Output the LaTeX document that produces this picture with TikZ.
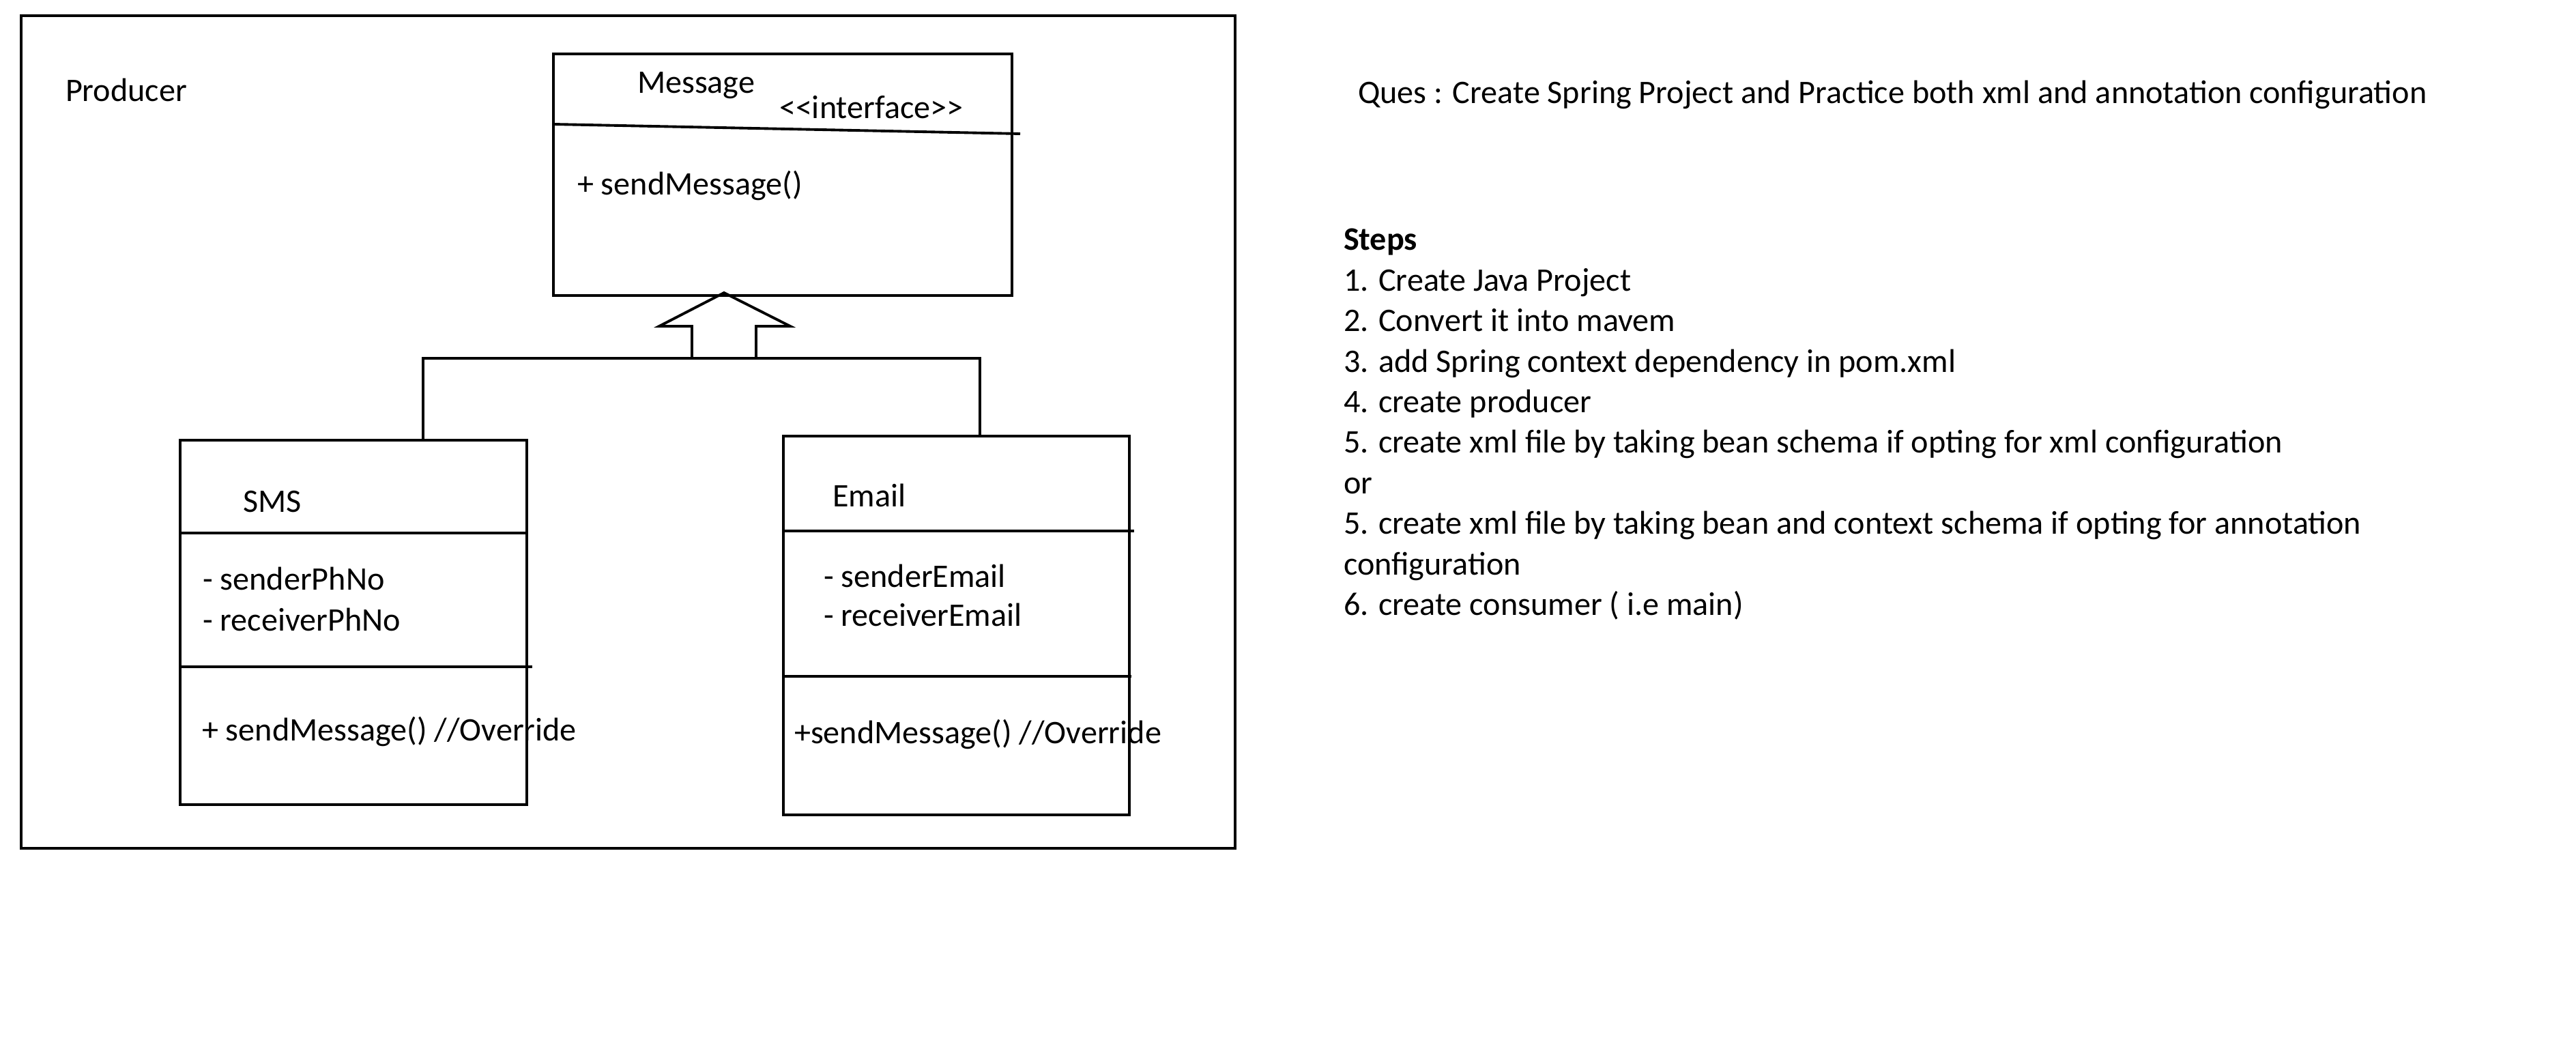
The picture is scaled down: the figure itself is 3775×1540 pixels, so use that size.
\documentclass[tikz,border=0pt]{standalone}
\usepackage{fontspec}
\setmainfont{Carlito}
\usetikzlibrary{positioning}

\begin{document}
\begin{tikzpicture}[x=0.01cm,y=-0.01cm,line width=1.1pt,
    font=\fontsize{13.7}{16.9}\selectfont,
    lbl/.style={anchor=base west,inner sep=0pt,outer sep=0pt},
    classbox/.style={draw,rectangle,anchor=north west,inner sep=0pt,outer sep=0pt}]
  \useasboundingbox (0,0) rectangle (3775,1540);
  % producer frame
  \draw[line width=1.4pt] (31,23) rectangle (1810,1243);
  \node[lbl] (producer) at (96,149) {Producer};
  % interface Message
  \node[classbox,minimum width=6.72cm,minimum height=3.54cm] (message) at (811,79) {};
  \draw (message.north west |- 0,182) -- (1495,196);
  \node[lbl] (msgname) at (934,137) {Message};
  \node[lbl] (msgstereo) at (1142,174) {<\kern0pt<interface>\kern0pt>};
  \node[lbl] (msgop) at (846,286) {+ sendMessage()};
  % class SMS
  \node[classbox,minimum width=5.08cm,minimum height=5.34cm] (sms) at (264,645) {};
  \draw (264,781) -- (772,781);
  \draw (262,977) -- (780,977);
  \node[lbl] (smsname) at (356,751) {SMS};
  \node[lbl] (smsattr1) at (297,865) {- senderPhNo};
  \node[lbl] (smsattr2) at (297,925) {- receiverPhNo};
  \node[lbl] (smsop) at (296,1085) {+ sendMessage() //Override};
  % class Email
  \node[classbox,minimum width=5.07cm,minimum height=5.55cm] (email) at (1148,639) {};
  \draw (1148,778) -- (1662,778);
  \draw (1148,991) -- (1658,991);
  \node[lbl] (emailname) at (1220,743) {Email};
  \node[lbl] (emailattr1) at (1207,860) {- senderEmail};
  \node[lbl] (emailattr2) at (1207,918) {- receiverEmail};
  \node[lbl] (emailop) at (1164,1089) {+sendMessage() //Override};
  % realization: shared bus and hollow block arrow
  \coordinate (busl) at (620,525);
  \coordinate (busr) at (1436,525);
  \coordinate (tip) at (1061,429);
  \draw (sms.north -| busl) -- (busl) -- (busr) -- (email.north -| busr);
  \draw[line join=miter] (1014,525) -- (1014,478) -- (966,478) -- (tip)
    -- (1158,478) -- (1108,478) -- (1108,525);
  % question and steps
  \node[lbl] (ques) at (1990,152) {Ques : Create Spring Project and Practice both xml and annotation configuration};
  \node[lbl,font=\fontsize{13.7}{16.9}\selectfont\bfseries] (steps) at (1969,367) {Steps};
  \foreach \txt [count=\i] in {{1. Create Java Project},{2. Convert it into mavem},
      {3. add Spring context dependency in pom.xml},{4. create producer},
      {5. create xml file by taking bean schema if opting for xml configuration},{or},
      {5. create xml file by taking bean and context schema if opting for annotation},
      {configuration},{6. create consumer ( i.e main)}}
    \node[lbl] (step\i) at (1969,{367+59.4*\i}) {\txt};
\end{tikzpicture}
\end{document}
